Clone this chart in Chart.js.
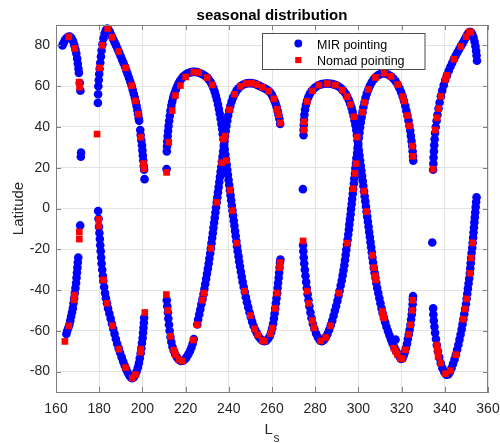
<!DOCTYPE html>
<html>
<head>
<meta charset="utf-8">
<script src="https://cdn.jsdelivr.net/npm/chart.js@4.4.1/dist/chart.umd.min.js"></script>
<style>
  html, body { margin: 0; padding: 0; background: #ffffff; }
  #c { display: block; }
</style>
</head>
<body>
<canvas id="c" width="500" height="443"></canvas>
<script>
// ---------------- data ----------------
const titleText = 'seasonal distribution';
const yTitle = 'Latitude';
const seriesNames = ['MIR pointing', 'Nomad pointing'];
const xTicks = [160, 180, 200, 220, 240, 260, 280, 300, 320, 340, 360];
const yTicks = [-80, -60, -40, -20, 0, 20, 40, 60, 80];

// MIR pointing: solar longitude Ls
const mirLs = [
  // north, Ls 163-172
  163,163.5,164.1,164.8,165.6,166.4,167.2,167.9,168.5,169,169.4,169.8,170.1,170.4,170.6,171,171.3,171.6,171.5,
  // north, Ls 179-201
  179.4,179.5,179.6,179.8,180,180.2,180.5,180.8,181.1,181.5,182,182.5,183.1,183.7,184.3,185,185.7,186.4,187.1,187.8,188.5,189.2,189.9,190.6,191.3,192,192.6,193.2,193.8,194.4,195,195.5,196,196.5,196.9,197.3,197.7,198,198.3,198.5,199,199.2,199.5,199.8,200,200.2,200.4,200.6,200.8,201,
  // south, Ls 165-171
  164.8,165.2,165.7,166.2,166.6,167,167.4,167.8,168.1,168.4,168.7,169,169.3,169.5,169.7,169.9,170.1,170.3,171.2,
  // south, Ls 179-201
  179.5,179.7,179.9,180.1,180.3,180.5,180.7,180.9,181.1,181.4,181.7,181.9,182.3,182.7,183.1,183.6,184.1,184.7,185.3,185.9,186.5,187.1,187.7,188.3,189,189.7,190.4,191.1,191.8,192.5,193.2,193.9,194.6,195.3,196,196.7,197.3,197.9,198.4,198.8,199.2,199.5,199.8,200.1,200.3,200.5,200.7,200.8,
  // arch from north 211 down to the south 256 V
  211.2,211.3,211.4,211.5,211.7,211.9,212.1,212.4,212.7,213,213.4,213.8,214.3,214.8,215.4,216,216.7,217.4,218.2,219,219.9,220.8,221.7,222.6,223.5,224.4,225.3,226.2,227.1,228,229.1,230,230.8,231.6,232.3,232.9,233.5,234,234.5,235,235.4,235.8,236.2,236.6,236.9,237.2,237.5,237.8,238.1,238.4,238.7,239,239.3,239.6,239.9,240.2,240.5,240.8,241.1,241.4,241.7,242,242.3,242.6,242.9,243.2,243.5,243.8,244.1,244.5,244.8,245.2,245.6,246,246.4,246.9,247.4,247.9,248.4,249,249.6,250.2,250.8,251.5,252.2,253,253.8,254.7,255.6,256.5,257.4,258.2,259,259.6,260.1,260.5,260.9,261.2,261.5,261.8,262.1,262.4,262.6,262.8,263.1,263.3,263.5,263.7,263.9,
  // V from south 211 up to the north 250 arch
  211.3,211.5,211.8,212,212.3,212.6,213,213.4,213.9,214.5,215.2,216,216.9,217.8,218.7,219.6,220.4,221.2,222,222.7,223.3,223.8,225.4,225.8,226.3,226.8,227.3,227.8,228.3,228.7,229.1,229.5,229.9,230.3,230.7,231,231.4,231.7,232,232.3,232.6,232.9,233.2,233.5,233.8,234.1,234.4,234.7,235,235.3,235.6,235.9,236.2,236.5,236.8,237.1,237.4,237.7,238,238.3,238.6,238.9,239.3,239.7,240.2,240.7,241.3,242,242.8,243.6,244.5,245.5,246.5,247.5,248.5,249.5,250.5,251.5,252.5,253.5,254.5,255.5,256.5,257.5,258.5,259.3,260,260.6,261.1,261.6,262.1,262.6,263,263.4,263.8,
  // arch from north 274 down to the south 320 V
  274.6,274.6,274.7,274.8,275,275.3,275.7,276.2,276.8,277.5,278.3,279.2,280.1,281.1,282.1,283.1,284.1,285.1,286.1,287.1,288.1,289.1,290,290.9,291.8,292.6,293.4,294.2,294.9,295.6,296.2,296.8,297.3,297.8,298.2,298.6,299,299.3,299.6,299.9,300.2,300.5,300.8,301.1,301.4,301.7,302,302.3,302.6,302.9,303.2,303.5,303.8,304.1,304.4,304.7,305,305.3,305.6,305.9,306.2,306.5,306.8,307.1,307.5,307.9,308.3,308.7,309.2,309.7,310.2,310.7,311.2,311.8,312.4,313,313.7,314.4,315.1,315.8,316.6,317.4,318.2,319,319.7,320.4,321,321.5,322,322.5,322.9,323.3,323.7,324.1,324.4,324.7,324.9,325.1,325.2,325.3,
  // V from south 274 up to the north 312 arch
  274.4,274.5,274.7,274.9,275.2,275.5,275.8,276.1,276.5,276.9,277.3,277.8,278.3,278.9,279.6,280.4,281.3,282.2,283.1,284,284.9,285.7,286.5,287.2,287.9,288.5,289.1,289.7,290.3,290.8,291.3,291.8,292.3,292.7,293.1,293.5,293.8,294.1,294.4,294.7,295,295.3,295.6,295.8,296.1,296.4,296.6,296.9,297.1,297.4,297.6,297.9,298.1,298.4,298.6,298.9,299.1,299.4,299.6,299.9,300.2,300.5,300.8,301.1,301.5,301.9,302.3,302.8,303.3,303.9,304.6,305.3,306.1,307,307.9,308.9,309.9,310.9,311.9,312.9,313.9,315.1,316.2,317.2,318.2,319,319.8,320.5,321.1,321.7,322.2,322.7,323.2,323.6,324,324.3,324.6,324.9,325.1,325.3,325.4,
  // north, Ls 334-355
  334.6,334.7,334.8,334.95,335.1,335.3,335.5,335.8,336.2,336.6,337.1,337.6,338.2,338.8,339.5,340.2,341,341.8,342.6,343.4,344.2,345,345.8,346.6,347.4,348.2,348.9,349.6,350.3,350.9,351.5,352.1,352.7,353.3,353.8,354.2,354.5,354.7,354.9,
  // south, Ls 334-355
  334.6,334.7,334.9,335.2,335.5,335.9,336.3,336.8,337.4,338.1,338.9,339.8,340.7,341.6,342.4,343.1,343.8,344.5,345.1,345.7,346.3,346.8,347.3,347.8,348.2,348.6,349,349.4,349.8,350.1,350.4,350.7,351,351.3,351.6,351.8,352,352.2,352.4,352.7,352.9,353.1,353.3,353.5,353.7,353.9,354.1,354.3,354.5,354.7,
  // isolated
  274.3,334.2,317.2
];
// MIR pointing: latitude
const mirLat = [
  80,81.2,82.5,83.5,84.2,84.3,83.5,82,80,78,76,73.5,71,68.5,66.5,61.5,57.8,27.5,25.4,
  51.8,56,60,63,66,68.5,71.5,74.5,77.5,80.5,83.5,85.8,87.5,88.2,87.8,86.5,84.8,83.2,81.6,80,78.3,76.6,74.8,73,71.2,69.5,67.6,65.8,64,62.2,60.3,58.3,56.3,54.3,52.3,50.3,48.2,46.2,44.3,43,38.5,36,33.5,31,28.5,26,23.5,21,19,14.4,
  -61.5,-60,-58.5,-57,-55,-53,-51,-49,-46.5,-44,-41.5,-39,-36.5,-34,-31.5,-29,-26.5,-24,-8.3,
  -1.2,-5,-9,-12,-15,-18,-21,-24,-27,-30,-33,-35.6,-38.5,-41.5,-44,-46.5,-49,-51.5,-54,-56.5,-59,-61.5,-64,-66.3,-68.6,-70.8,-73,-75,-77,-78.8,-80.4,-81.8,-82.8,-83.2,-82.8,-81.6,-80,-78,-75.8,-73.5,-71,-68.5,-66,-63.5,-61,-58.5,-56,-53.6,
  19.3,28,30.5,33,35.5,38,40.5,43,45.5,48,50.5,52.5,54.5,56.3,58,59.7,61.3,62.6,63.8,64.8,65.6,66.2,66.6,66.9,67,67,66.9,66.6,66.2,65.7,65,64.2,63.2,62,60.6,59,57.2,55.3,53.3,51,48.8,46.5,44,41.5,39,36.5,34,31.5,29,26.5,24,21.5,19,16.5,14,11.5,9,6.5,4,1.5,-1,-3.5,-6,-8.5,-11,-13.5,-16,-18.5,-21,-23.5,-26,-28.5,-31,-33.5,-36,-38.5,-41,-43.5,-46,-48.5,-51,-53.3,-55.5,-57.6,-59.5,-61.2,-62.8,-64,-64.8,-65.1,-64.8,-63.9,-62.5,-60.8,-58.7,-56.5,-54,-51.5,-49,-46.5,-44,-41.5,-39,-36.5,-34,-31.5,-29,-26.5,-25,
  -45,-48,-51,-54,-57,-60,-63,-65.5,-67.8,-69.8,-71.6,-73,-74.2,-74.8,-74.7,-74.1,-73,-71.6,-70,-68.2,-66.2,-64,-56.9,-54.5,-52,-49.5,-47,-44.5,-42,-39.5,-37,-34.5,-32,-29.5,-27,-24.5,-22,-19.5,-17,-14.5,-12,-9.5,-7,-4.5,-2,0.5,3,5.5,8,10.5,13,15.5,18,20.5,23,25.5,28,30.5,33,35.5,38,40.5,43,45.5,48,50.3,52.5,54.5,56.3,57.8,59,60,60.7,61.1,61.4,61.5,61.5,61.3,61,60.5,60,59.5,59,58.4,57.6,56.8,55.6,54.2,53,51.7,50,48,46,44,41.5,
  36,38.5,41,43.5,46,48.5,50.8,52.8,54.6,56.2,57.5,58.6,59.5,60.2,60.7,61,61.2,61.3,61.3,61.2,61,60.7,60.3,59.8,59.1,58.3,57.3,56.1,54.7,53.1,51.4,49.5,47.5,45.4,43.2,41,38.5,36,33.5,31,28.5,26,23.5,21,18.5,16,13.5,11,8.5,6,3.5,1,-1.5,-4,-6.5,-9,-11.5,-14,-16.5,-19,-21.5,-24,-26.5,-29,-31.5,-34,-36.5,-39,-41.5,-44,-46.5,-49,-51.3,-53.6,-55.8,-58,-60.2,-62.3,-64.3,-66.2,-68,-69.7,-71.2,-72.5,-73.8,-73.6,-72,-70.5,-68.5,-66.3,-64,-61.8,-59.5,-57,-54.5,-52,-49.5,-47,-44.5,-43,
  -18,-21,-24,-27,-30,-33,-36,-39,-42,-45,-48,-51,-53.8,-56.5,-59,-61.3,-63.3,-64.7,-65.1,-64.5,-63.2,-61.5,-59.5,-57.3,-55,-52.6,-50.2,-47.8,-45.3,-42.8,-40.3,-37.8,-35.3,-32.8,-30.3,-27.8,-25.3,-22.8,-20.3,-17.8,-15.3,-12.8,-10.3,-7.8,-5.3,-2.8,-0.3,2.2,4.7,7.2,9.7,12.2,14.7,17.2,19.7,22.2,24.7,27.2,29.7,32.2,34.7,37.2,39.7,42.2,44.7,47.2,49.7,52,54.3,56.4,58.4,60.2,61.8,63.2,64.3,65.2,65.8,66.2,66.3,66.1,65.6,64.8,63.7,62.4,60.8,59,57,54.9,52.7,50.4,48,45.6,43.1,40.6,38.1,35.6,33.1,30.6,28.1,25.6,23.5,
  19,22,25,28,31,34,37,40,43,46,49,52,55,57.8,60.5,63,65.3,67.5,69.5,71.4,73.2,74.9,76.5,78,79.5,80.9,82.3,83.7,85,86,86.6,86.5,85.5,83.8,81.8,79.6,77.3,75,72.5,
  -49,-52,-55,-58,-61,-64,-67,-70,-73,-75.8,-78.3,-80.3,-81.5,-81.4,-80.2,-78.3,-76.2,-74,-71.7,-69.3,-66.8,-64.3,-61.8,-59.3,-56.8,-54.3,-51.8,-49.3,-46.8,-44.3,-41.8,-39.3,-36.8,-34.3,-31.8,-29.3,-26.8,-24.3,-21.8,-19.3,-16.8,-14.3,-11.8,-9.3,-6.8,-4.3,-1.8,0.7,3.2,5.5,
  9.5,-16.7,-64.3
];

// Nomad pointing: solar longitude Ls
const nomadLs = [
  165.9,168.7,170.7,170.9,
  179,180.2,181.4,183.9,186,189,192.2,195,196.8,198,199.3,200.5,200.7,
  164.1,165.9,168.3,168.6,170.8,170.8,
  179.8,179.8,182,183.6,186.1,189.1,192.2,195.3,196.8,199.1,199.3,201.1,
  211.1,211.8,213,214.5,215.3,216.9,218.3,223.6,225.4,227.7,228.4,231.7,234.4,236.7,238.3,240.3,242.7,245.3,248,250.5,253,255.5,258.5,260.8,262.4,263.1,263.8,
  211.2,212.2,213.8,215.3,217.6,220,223.8,226.1,230,232.3,237.5,238.9,240.5,241.7,243.6,247.3,250,251.9,253.4,255.5,256.5,259.3,260.1,261.5,262.4,263.5,263.7,
  274.7,274.7,276.3,278.6,281.7,285.6,289.4,292.5,294.8,296.3,297.9,299.4,302.5,303.8,306.4,307.1,307.8,308,311,311.5,311.8,316.4,317.2,318,319.5,320.3,321.8,323.3,324.1,324.9,325.2,
  274.4,276.3,277,278.6,279.4,282.5,284.8,287.1,291,294.8,297.6,298.4,298.9,301.9,302.8,304.6,307.9,311.9,315.1,318.2,320.5,321.1,322.7,323.6,324.9,325.3,
  334.6,335.6,336.4,337.1,338.2,340.3,341,344.2,347.4,349.9,351.3,352.1,
  336.3,336.5,336.7,336.9,338.1,340.3,342.6,345.1,348.6,349.4,350.1,351.6,352.2,352.9
];
// Nomad pointing: latitude
const nomadLat = [
  84.2,78.5,62,59.5,
  36.5,69,80,88.3,84,77,69,60.3,52.8,46.2,35,22,19.5,
  -65.2,-57.6,-44.8,-42.5,-11.5,-15,
  -5.3,-8.6,-35,-46.5,-57.5,-69,-78,-83.2,-81.5,-70.5,-69,-51,
  -42.2,-50,-62.7,-69.5,-71.7,-74,-74.8,-64.5,-57,-45,-41.5,-19.5,3,22.5,35.5,48.5,56,59.9,61.3,61.5,60.8,59.5,57.6,53.8,48.7,46,42,
  17.7,32.5,48,55.4,60.3,64.5,66.9,66.7,64.2,60.6,34,23.5,9,-1,-17,-40.5,-52.5,-59,-62,-64.7,-65.1,-61.5,-58.7,-49,-41.5,-29,-26.5,
  38.5,42.5,52.5,57.7,60.5,61.3,60.6,58,54.9,51,45,35,8.5,-1.5,-23,-29,-33,-35,-50.5,-52.5,-53.6,-68.5,-70,-71.5,-73.6,-73.7,-69.3,-61.8,-57,-50,-45,
  -15.9,-40.5,-46.5,-55,-58.5,-65,-63.3,-57.5,-41.5,-17,9.7,17.2,22,47.2,52,58.4,64.3,66.3,64.8,60.8,54.9,52.7,45.6,40.6,30.6,25.6,
  19.3,38.5,44.5,49,55,63.3,65.3,73.2,79.5,84.3,86.6,86.5,
  -67,-68.4,-70,-72.5,-75.8,-81,-79.5,-71.7,-54.3,-49.3,-44.3,-31.8,-24.3,-16.8
];

if (mirLs.length !== mirLat.length) throw new Error('MIR length mismatch ' + mirLs.length + ' vs ' + mirLat.length);
if (nomadLs.length !== nomadLat.length) throw new Error('Nomad length mismatch ' + nomadLs.length + ' vs ' + nomadLat.length);

// ---------------- styling ----------------
const FONT = '"Liberation Sans", Arial, Helvetica, sans-serif';
const axisColor = '#808080';
const textColor = '#262626';
const gridColor = '#e3e3e3';
const mirColor = '#0000ff';
const nomadColor = '#ff0000';

const toPoints = (xs, ys) => xs.map((x, i) => ({ x: x, y: ys[i] }));

const decor = {
  id: 'decor',
  afterDraw(chart) {
    const { ctx, chartArea: a, scales } = chart;
    const xs = scales.x, ys = scales.y;
    ctx.save();
    // box (top + right) and inward ticks on all sides
    ctx.strokeStyle = axisColor;
    ctx.lineWidth = 1;
    ctx.beginPath();
    ctx.moveTo(a.left, a.top + 0.5); ctx.lineTo(a.right, a.top + 0.5);
    ctx.moveTo(a.right - 0.5, a.top); ctx.lineTo(a.right - 0.5, a.bottom);
    const tl = 5;
    xTicks.forEach(v => {
      const px = Math.round(xs.getPixelForValue(v)) + 0.5;
      ctx.moveTo(px, a.bottom); ctx.lineTo(px, a.bottom - tl);
      ctx.moveTo(px, a.top); ctx.lineTo(px, a.top + tl);
    });
    yTicks.forEach(v => {
      const py = Math.round(ys.getPixelForValue(v)) + 0.5;
      ctx.moveTo(a.left, py); ctx.lineTo(a.left + tl, py);
      ctx.moveTo(a.right, py); ctx.lineTo(a.right - tl, py);
    });
    ctx.stroke();

    // title
    ctx.fillStyle = '#000000';
    ctx.font = 'bold 15px ' + FONT;
    ctx.textAlign = 'center';
    ctx.textBaseline = 'alphabetic';
    ctx.fillText(titleText, (a.left + a.right) / 2, 20);

    // y title
    ctx.save();
    ctx.fillStyle = textColor;
    ctx.font = '15px ' + FONT;
    ctx.translate(23, (a.top + a.bottom) / 2);
    ctx.rotate(-Math.PI / 2);
    ctx.textAlign = 'center';
    ctx.fillText(yTitle, 0, 0);
    ctx.restore();

    // x title: L with subscript s
    ctx.fillStyle = textColor;
    ctx.textAlign = 'left';
    ctx.font = '15px ' + FONT;
    ctx.fillText('L', 264.5, 433.5);
    ctx.font = '12px ' + FONT;
    ctx.fillText('s', 273.5, 441.5);

    // legend
    const lx = 262.5, ly = 33.5, lw = 162.5, lh = 36;
    ctx.fillStyle = '#ffffff';
    ctx.fillRect(lx, ly, lw, lh);
    ctx.strokeStyle = '#4d4d4d';
    ctx.lineWidth = 1;
    ctx.strokeRect(lx, ly, lw, lh);
    ctx.fillStyle = mirColor;
    ctx.beginPath();
    ctx.arc(298.3, 43.5, 3.9, 0, Math.PI * 2);
    ctx.fill();
    ctx.fillStyle = nomadColor;
    ctx.fillRect(295.2, 57, 6.2, 6.2);
    ctx.fillStyle = '#000000';
    ctx.font = '12.5px ' + FONT;
    ctx.textAlign = 'left';
    ctx.textBaseline = 'alphabetic';
    ctx.fillText(seriesNames[0], 317, 48.5);
    ctx.fillText(seriesNames[1], 317, 64.5);
    ctx.restore();
  }
};

new Chart(document.getElementById('c'), {
  type: 'scatter',
  data: {
    datasets: [
      {
        label: seriesNames[0],
        data: toPoints(mirLs, mirLat),
        pointStyle: 'circle',
        pointRadius: 4.3,
        pointHoverRadius: 4.3,
        backgroundColor: mirColor,
        borderWidth: 0,
        order: 2,
        clip: false
      },
      {
        label: seriesNames[1],
        data: toPoints(nomadLs, nomadLat),
        pointStyle: 'rect',
        pointRadius: 4.7,
        pointHoverRadius: 4.7,
        backgroundColor: nomadColor,
        borderWidth: 0,
        order: 1,
        clip: false
      }
    ]
  },
  options: {
    responsive: false,
    animation: false,
    devicePixelRatio: 1,
    layout: { padding: { left: 0, right: 12, top: 25, bottom: 0 } },
    plugins: {
      legend: { display: false },
      title: { display: false },
      tooltip: { enabled: false }
    },
    events: [],
    scales: {
      x: {
        type: 'linear',
        min: 160,
        max: 360,
        afterBuildTicks: s => { s.ticks = xTicks.map(v => ({ value: v })); },
        afterFit: s => { s.height = 51; s.paddingLeft = 0; s.paddingRight = 0; },
        grid: { color: gridColor, drawTicks: false, lineWidth: 1 },
        border: { color: axisColor, width: 1 },
        ticks: {
          padding: 9,
          color: textColor,
          font: { family: FONT, size: 14 },
          maxRotation: 0,
          autoSkip: false
        }
      },
      y: {
        type: 'linear',
        min: -90,
        max: 90,
        afterBuildTicks: s => { s.ticks = yTicks.map(v => ({ value: v })); },
        afterFit: s => { s.width = 56; s.paddingTop = 0; s.paddingBottom = 0; },
        grid: { color: gridColor, drawTicks: false, lineWidth: 1 },
        border: { color: axisColor, width: 1 },
        ticks: {
          padding: 6,
          color: textColor,
          font: { family: FONT, size: 14 },
          autoSkip: false
        }
      }
    }
  },
  plugins: [decor]
});
</script>
</body>
</html>
